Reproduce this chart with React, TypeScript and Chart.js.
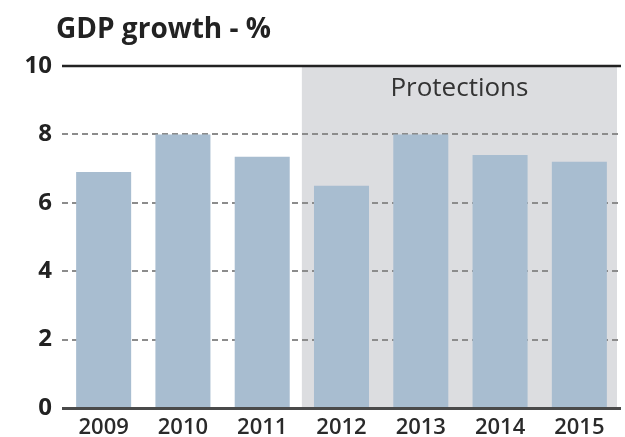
import React, { useEffect, useRef } from "react";
import { Chart, registerables } from "chart.js";

Chart.register(...registerables);

const title = "GDP growth - %";
const categories = ["2009", "2010", "2011", "2012", "2013", "2014", "2015"];
const gdpGrowth = [6.9, 8.0, 7.35, 6.5, 8.0, 7.4, 7.2];
const yTicks = [0, 2, 4, 6, 8, 10];
const shadeLabel = "Protections";
const shadeFrom = "2012";

const FONT = "'Open Sans', 'DejaVu Sans', sans-serif";

const decorPlugin = {
  id: "decor",
  beforeDatasetsDraw(chart: any) {
    const { ctx, chartArea, scales } = chart;
    const x = scales.x;
    const y = scales.y;
    const idx = categories.indexOf(shadeFrom);
    const left = (x.getPixelForValue(idx - 1) + x.getPixelForValue(idx)) / 2;
    const right = chartArea.right - 2;
    const top = y.getPixelForValue(10);
    const bottom = y.getPixelForValue(0);
    ctx.save();
    // shaded period
    ctx.fillStyle = "#dcdde0";
    ctx.fillRect(left, top, right - left, bottom - top);
    // dashed grid lines
    ctx.strokeStyle = "#8c8c8c";
    ctx.lineWidth = 2;
    ctx.setLineDash([6, 4]);
    yTicks.forEach((v) => {
      if (v === 0 || v === 10) return;
      const py = Math.round(y.getPixelForValue(v));
      ctx.beginPath();
      ctx.moveTo(chartArea.left - 2, py);
      ctx.lineTo(chartArea.right + 2, py);
      ctx.stroke();
    });
    ctx.setLineDash([]);
    // top solid line
    ctx.strokeStyle = "#222";
    ctx.lineWidth = 2.5;
    ctx.beginPath();
    ctx.moveTo(chartArea.left - 2, top);
    ctx.lineTo(chartArea.right + 2, top);
    ctx.stroke();
    // shade label
    ctx.fillStyle = "#333";
    ctx.font = `400 26px ${FONT}`;
    ctx.textAlign = "center";
    ctx.textBaseline = "alphabetic";
    ctx.fillText(shadeLabel, (left + right) / 2, top + 30);
    // title
    ctx.fillStyle = "#222";
    ctx.font = `700 28px ${FONT}`;
    ctx.textAlign = "left";
    ctx.fillText(title, 56, 38);
    ctx.restore();
  },
  afterDatasetsDraw(chart: any) {
    const { ctx, chartArea, scales } = chart;
    const py = scales.y.getPixelForValue(0);
    ctx.save();
    ctx.strokeStyle = "#4a4a4a";
    ctx.lineWidth = 3;
    ctx.beginPath();
    ctx.moveTo(chartArea.left - 2, py + 0.5);
    ctx.lineTo(chartArea.right + 2, py + 0.5);
    ctx.stroke();
    ctx.restore();
  },
};

export default function App() {
  const ref = useRef<HTMLCanvasElement>(null);
  useEffect(() => {
    document.body.style.margin = "0";
    const canvas = ref.current;
    if (!canvas) return;
    const chart = new Chart(canvas, {
      type: "bar",
      data: {
        labels: categories,
        datasets: [
          {
            label: title,
            data: gdpGrowth,
            backgroundColor: "#a8bdd0",
            barPercentage: 0.694,
            categoryPercentage: 1,
          },
        ],
      },
      options: {
        responsive: false,
        animation: false,
        layout: { padding: { top: 66, right: 6, left: 0, bottom: 0 } },
        plugins: {
          legend: { display: false },
          tooltip: { enabled: false },
          title: { display: false },
        },
        scales: {
          x: {
            grid: { display: false, drawTicks: false },
            border: { display: false },
            ticks: {
              padding: 7,
              color: "#2a2a2a",
              font: { family: FONT, size: 22, weight: "600" },
            },
            afterFit: (s: any) => {
              s.height = 29;
            },
          },
          y: {
            min: 0,
            max: 10,
            grid: { display: false, drawTicks: false },
            border: { display: false },
            afterBuildTicks: (s: any) => {
              s.ticks = yTicks.map((v) => ({ value: v }));
            },
            ticks: {
              padding: 12,
              color: "#222",
              font: { family: FONT, size: 24, weight: "700" },
            },
            afterFit: (s: any) => {
              s.width = 64;
            },
          },
        },
      },
      plugins: [decorPlugin],
    });
    return () => chart.destroy();
  }, []);
  return <canvas ref={ref} width={625} height={437} />;
}
